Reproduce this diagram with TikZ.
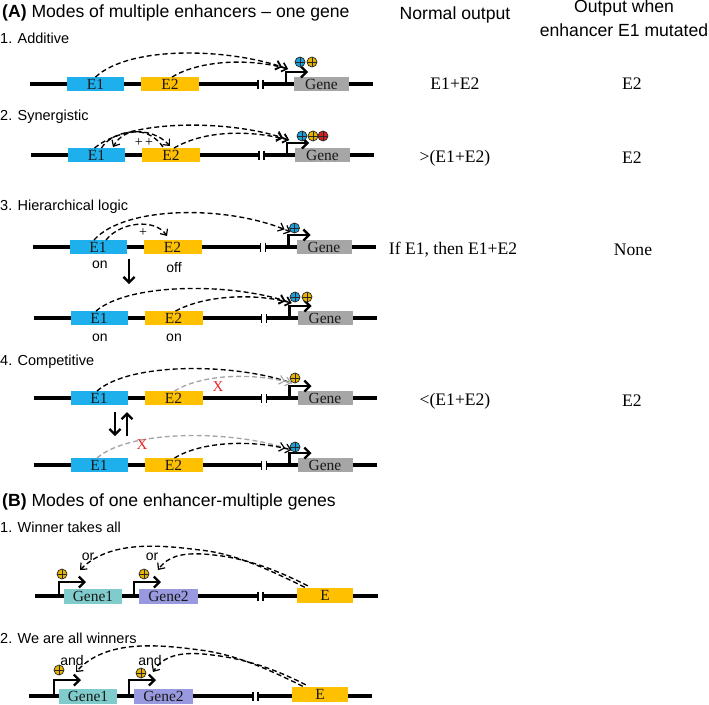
\documentclass[tikz,border=0pt]{standalone}
\usepackage{fontspec}
\setmainfont{Liberation Serif}
\newfontfamily\arialf{Liberation Sans}
\usetikzlibrary{arrows.meta,calc}
\definecolor{eblue}{RGB}{30,176,236}
\definecolor{eorange}{RGB}{255,192,0}
\definecolor{egray}{RGB}{166,166,166}
\definecolor{gteal}{RGB}{128,204,204}
\definecolor{glav}{RGB}{153,153,224}
\definecolor{cblue}{RGB}{26,160,216}
\definecolor{cyel}{RGB}{232,180,0}
\definecolor{cred}{RGB}{214,32,32}
\definecolor{xred}{RGB}{230,40,40}
\tikzset{
  dna/.style={line width=3.1pt},
  tickbar/.style={line width=1.6pt},
  ebox/.style={minimum height=13.5pt, inner sep=0pt, font=\fontsize{15.5}{15.5}\selectfont, text=black!90},
  prom/.style={line width=2.3pt, -{Straight Barb[length=5.5pt,width=11pt]}},
  vbig/.style={line width=2.3pt, -{Straight Barb[length=5.5pt,width=11pt]}},
  dsh/.style={line width=1.35pt, dash pattern=on 5pt off 3pt},
  dbl/.style={-{Straight Barb[length=5pt,width=9pt,line width=1.2pt] Straight Barb[length=5pt,width=9pt,line width=1.2pt]}},
  sgl/.style={-{Straight Barb[length=5pt,width=9pt,line width=1.2pt]}},
  pluscirc/.style={circle, minimum size=10pt, inner sep=0pt, draw=black!85, line width=0.7pt,
    path picture={\draw[line width=0.7pt,black!85] (path picture bounding box.north) -- (path picture bounding box.south) (path picture bounding box.west) -- (path picture bounding box.east);}},
  hdr/.style={font=\arialf\fontsize{17.6}{20}\selectfont, inner sep=0pt},
  rowlab/.style={font=\arialf\fontsize{14.5}{16}\selectfont, inner sep=0pt, anchor=west},
  small/.style={font=\arialf\fontsize{14}{15}\selectfont, inner sep=0pt},
  outp/.style={font=\fontsize{17.6}{20}\selectfont, inner sep=0pt},
}
\newcommand\enhrow[3]{%
\begin{scope}[shift={(#3,#2)}]
  \draw[dna] (30,0) -- (258,0);
  \draw[tickbar] (258,-4.5) -- (258,4.5);
  \draw[dna] (263,0) -- (373,0);
  \draw[tickbar] (263,-4.5) -- (263,4.5);
  \node[ebox, fill=eblue, minimum width=57pt] (#1E1) at (95.5,0) {E1};
  \node[ebox, fill=eorange, minimum width=58pt] (#1E2) at (170,0) {E2};
  \node[ebox, fill=egray, minimum width=55pt] (#1G) at (321.5,0) {Gene};
  \coordinate (#1P) at (286,0);
  \coordinate (#1Q) at (286,-12);
  \coordinate (#1R) at (308,-12);
  \draw[prom] (#1P) -- (#1Q) -- (#1R);
  \coordinate (#1T) at (288,-15);
\end{scope}}
\begin{document}
\begin{tikzpicture}[x=1pt,y=-1pt]
\useasboundingbox (0,0) rectangle (709,704);
% headers
\node[hdr, anchor=west] (hA) at (2,13) {\textbf{(A)} Modes of multiple enhancers – one gene};
\node[hdr] (hN) at (455,15) {Normal output};
\node[hdr] (hO1) at (624,8) {Output when};
\node[hdr] (hO2) at (624,30) {enhancer E1 mutated};
% row 1
\node[rowlab] (l1) at (0,38) {1. Additive};
\enhrow{ra}{84}{0}
\node[pluscirc, fill=cblue] (ca1) at (300,62) {};
\node[pluscirc, fill=cyel] (ca2) at (312,62) {};
\draw[dsh,dbl] (raE1.north) .. controls (130,45) and (230,48) .. (raT);
\draw[dsh,dbl] ($(raE2.north)+(2,0)$) .. controls (200,60) and (250,58) .. (raT);
\node[outp] (oa1) at (455,84) {E1+E2};
\node[outp] (oa2) at (632,84) {E2};
% row 2
\node[rowlab] (l2) at (0,117) {2. Synergistic};
\enhrow{rb}{155}{1}
\node[pluscirc, fill=cblue] (cb1) at (302,136) {};
\node[pluscirc, fill=cyel] (cb2) at (313,136) {};
\node[pluscirc, fill=cred] (cb3) at (323,136) {};
\draw[dsh,dbl] ($(rbE1.north)+(-2,0)$) .. controls (130,118) and (235,120) .. (rbT);
\draw[dsh,dbl] ($(rbE2.north)+(3,0)$) .. controls (205,130) and (250,130) .. (rbT);
\coordinate (sbL) at (113,147);
\coordinate (sbR) at (170,146);
\draw[dsh,sgl] ($(rbE1.north)+(5,0)$) .. controls (112,130) and (150,124) .. (sbR);
\draw[dsh,sgl] ($(rbE2.north)+(-8,-1)$) .. controls (150,128) and (125,126) .. (sbL);
\node[font=\fontsize{14}{14}\selectfont, inner sep=0pt] (pb) at (144,143) {+\,+};
\node[outp] (ob1) at (455,158) {>(E1+E2)};
\node[outp] (ob2) at (632,158) {E2};
% row 3
\node[rowlab] (l3) at (0,207) {3. Hierarchical logic};
\enhrow{rc}{247}{2.5}
\node[pluscirc, fill=cblue] (cc1) at (294.5,228) {};
\draw[dsh,dbl] ($(rcE1.north)+(-4,0)$) .. controls (125,205) and (230,205) .. (rcT);
\coordinate (scR) at (167,236);
\draw[dsh,sgl] ($(rcE1.north)+(8,0)$) .. controls (120,222) and (155,218) .. (scR);
\node[font=\fontsize{14}{14}\selectfont, inner sep=0pt] (pc) at (143,233) {+};
\node[small] (on1) at (100,265) {on};
\node[small] (off1) at (174,267) {off};
\coordinate (dcA) at (129,259);
\coordinate (dcB) at (129,284);
\draw[vbig] (dcA) -- (dcB);
\node[outp] (oc1) at (453,250) {If E1, then E1+E2};
\node[outp] (oc2) at (633,250) {None};
\enhrow{rd}{318}{3.5}
\node[pluscirc, fill=cblue] (cd1) at (295,297) {};
\node[pluscirc, fill=cyel] (cd2) at (307,297) {};
\draw[dsh,dbl] ($(rdE1.north)+(-3,0)$) .. controls (130,282) and (235,283) .. (rdT);
\draw[dsh,dbl] ($(rdE2.north)+(2,0)$) .. controls (205,295) and (255,293) .. (rdT);
\node[small] (on2) at (100,338) {on};
\node[small] (on3) at (174,338) {on};
% row 4
\node[rowlab] (l4) at (0,362) {4. Competitive};
\enhrow{re}{398}{3.5}
\node[pluscirc, fill=cyel] (ce1) at (295,378) {};
\draw[dsh] ($(reE1.north)+(-2,0)$) .. controls (130,362) and (235,363) .. (reT);
\draw[dsh,dbl,egray] ($(reE2.north)+(1,0)$) .. controls (200,375) and (250,372) .. (reT);
\node[font=\fontsize{15}{15}\selectfont, inner sep=0pt, text=xred] (xe) at (218,387) {X};
\coordinate (deA) at (115,412);
\coordinate (deB) at (115,436);
\coordinate (deC) at (127,436);
\coordinate (deD) at (127,412);
\draw[vbig] (deA) -- (deB);
\draw[vbig] (deC) -- (deD);
\enhrow{rf}{465}{3.5}
\node[pluscirc, fill=cblue] (cf1) at (295,447) {};
\draw[dsh,egray] ($(rfE1.north)+(-2,0)$) .. controls (130,429) and (235,430) .. (rfT);
\draw[dsh,dbl] ($(rfE2.north)+(1,0)$) .. controls (200,442) and (250,439) .. (rfT);
\node[font=\fontsize{15}{15}\selectfont, inner sep=0pt, text=xred] (xf) at (142,445) {X};
\node[outp] (oe1) at (455,401) {<(E1+E2)};
\node[outp] (oe2) at (632,401) {E2};
% section B
\node[hdr, anchor=west] (hB) at (2,502) {\textbf{(B)} Modes of one enhancer-multiple genes};
\node[rowlab] (l5) at (0,527) {1. Winner takes all};
\draw[dna] (35,596) -- (258,596);
\draw[tickbar] (258,591.5) -- (258,600.5);
\draw[dna] (263,596) -- (378,596);
\draw[tickbar] (263,591.5) -- (263,600.5);
\node[ebox, fill=gteal, minimum width=58pt, minimum height=15pt] (g1a) at (93,596) {Gene1};
\node[ebox, fill=glav, minimum width=59pt, minimum height=15pt] (g2a) at (168.5,596) {Gene2};
\node[ebox, fill=eorange, minimum width=56pt, minimum height=15pt] (ea) at (325,595) {E};
\coordinate (pa1) at (59,596);
\coordinate (pa2) at (59,582);
\coordinate (pa3) at (86,582);
\coordinate (pa4) at (134,596);
\coordinate (pa5) at (134,582);
\coordinate (pa6) at (161,582);
\draw[prom] (pa1) -- (pa2) -- (pa3);
\draw[prom] (pa4) -- (pa5) -- (pa6);
\node[pluscirc, fill=cyel] (cg1) at (62,574) {};
\node[pluscirc, fill=cyel] (cg2) at (144,574) {};
\node[small] (or1) at (88,557) {or};
\node[small] (or2) at (152,557) {or};
\coordinate (ta1) at (80,570);
\coordinate (ta2) at (158,570);
\draw[dsh,sgl] ($(ea.north west)+(8,0)$) .. controls (260,565) and (230,553) .. (200,550)
   .. controls (160,545) and (110,540) .. (ta1);
\draw[dsh,sgl] ($(ea.north west)+(11,-1.5)$) .. controls (263,563) and (233,556) .. (203,554)
   .. controls (182,553) and (168,556) .. (ta2);
% B2
\node[rowlab] (l6) at (0,638) {2. We are all winners};
\draw[dna] (29,696) -- (253,696);
\draw[tickbar] (253,691.5) -- (253,700.5);
\draw[dna] (258,696) -- (372,696);
\draw[tickbar] (258,691.5) -- (258,700.5);
\node[ebox, fill=gteal, minimum width=58pt, minimum height=15pt] (g1b) at (88,696) {Gene1};
\node[ebox, fill=glav, minimum width=59pt, minimum height=15pt] (g2b) at (163.5,696) {Gene2};
\node[ebox, fill=eorange, minimum width=56pt, minimum height=15pt] (eb) at (320,694) {E};
\coordinate (pb1) at (54,696);
\coordinate (pb2) at (54,680);
\coordinate (pb3) at (81,680);
\coordinate (pb4) at (129,696);
\coordinate (pb5) at (129,680);
\coordinate (pb6) at (156,680);
\draw[prom] (pb1) -- (pb2) -- (pb3);
\draw[prom] (pb4) -- (pb5) -- (pb6);
\node[pluscirc, fill=cyel] (ch1) at (59,670) {};
\node[pluscirc, fill=cyel] (ch2) at (141,673) {};
\node[small] (and1) at (72,660) {and};
\node[small] (and2) at (150,660) {and};
\coordinate (tb1) at (76,672);
\coordinate (tb2) at (153,672);
\draw[dsh,sgl] ($(eb.north west)+(11,0)$) .. controls (262,666) and (232,654) .. (200,650)
   .. controls (155,644) and (105,640) .. (tb1);
\draw[dsh,sgl] ($(eb.north west)+(14,-1.5)$) .. controls (265,664) and (235,657) .. (203,654)
   .. controls (180,652) and (163,656) .. (tb2);
\end{tikzpicture}
\end{document}
